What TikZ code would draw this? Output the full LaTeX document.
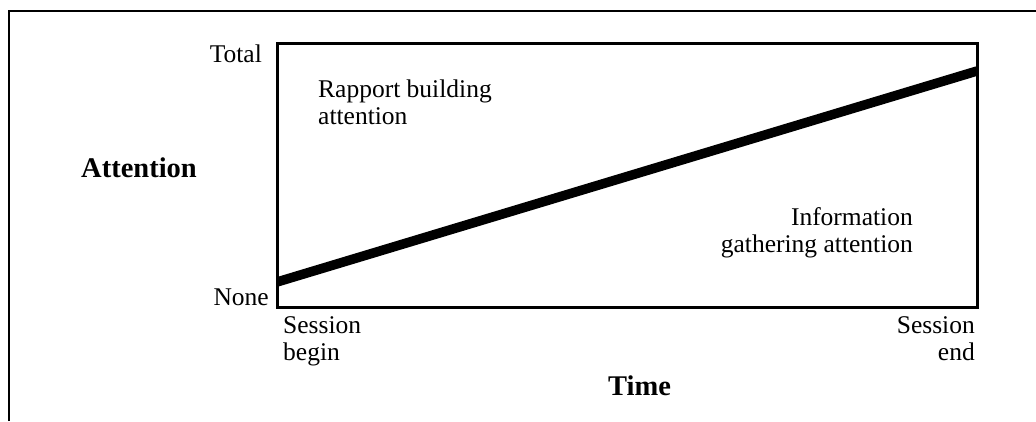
\documentclass[tikz,border=0pt]{standalone}
\usepackage{fontspec}
\setmainfont{Liberation Serif}
\begin{document}
\begin{tikzpicture}[x=1pt,y=-1pt,
  lbl/.style={inner sep=0pt, font=\fontsize{25.5pt}{26.5pt}\selectfont},
  axistitle/.style={inner sep=0pt, font=\fontsize{28.5pt}{30pt}\selectfont\bfseries},
  frameline/.style={line width=2pt},
  boxline/.style={line width=3pt},
  trend/.style={line width=9.5pt}]
\useasboundingbox (0,0) rectangle (1036,421);
% outer frame: left and top edges only
\coordinate (ftop) at (9,11);
\coordinate (fright) at (1036,11);
\coordinate (fbottom) at (9,421);
\draw[frameline] (fbottom) -- (ftop) -- (fright);
% plot box
\coordinate (bl) at (277,307);
\coordinate (tr) at (977,43);
\draw[boxline] (bl) rectangle (tr);
% attention trend line, clipped to the box
\coordinate (tstart) at (277,282);
\coordinate (tend) at (977,71);
\begin{scope}
  \clip (bl) rectangle (tr);
  \draw[trend] (tstart) -- (tend);
\end{scope}
% axis labels (multi-line nodes are placed by their last baseline)
\node[lbl, anchor=base east] (total) at (262,62) {Total};
\node[lbl, anchor=base east] (none) at (269,305) {None};
\node[axistitle, anchor=base east] (attn) at (197,177) {Attention};
\node[axistitle, anchor=base west] (time) at (608,395) {Time};
\node[lbl, anchor=base west, align=left] (sbegin) at (283,360) {Session\\begin};
\node[lbl, anchor=base east, align=right] (send) at (975,360) {Session\\end};
% region labels
\node[lbl, anchor=base west, align=left] (rapport) at (318,124) {Rapport building\\attention};
\node[lbl, anchor=base east, align=right] (info) at (913,252) {Information\\gathering attention};
\end{tikzpicture}
\end{document}
